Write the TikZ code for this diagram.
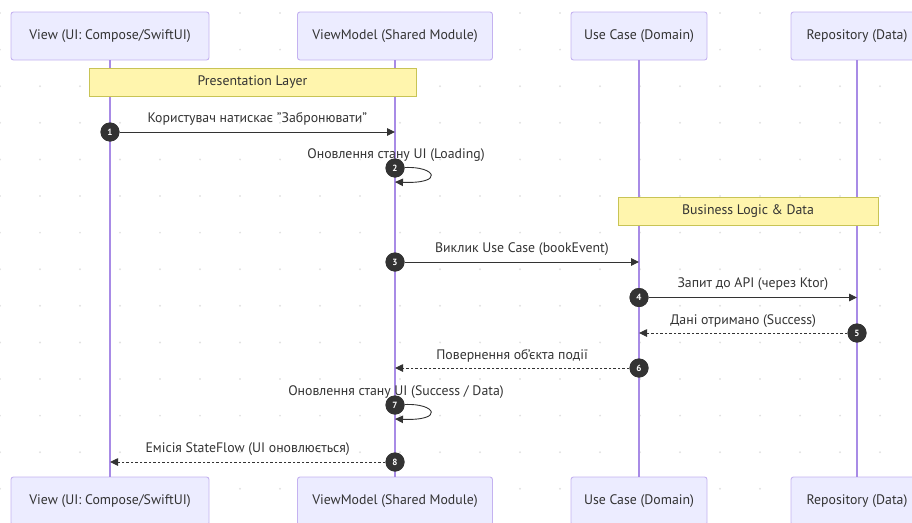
\documentclass[tikz,border=0pt]{standalone}
\usepackage{fontspec}
\setmainfont{PT Sans}
\usetikzlibrary{arrows.meta}
\definecolor{actorfill}{HTML}{ECECFF}
\definecolor{actorline}{HTML}{C4B2F0}
\definecolor{lifeline}{HTML}{A88BE6}
\definecolor{notefill}{HTML}{FFF5AD}
\definecolor{noteline}{HTML}{C8C455}
\definecolor{ink}{HTML}{333333}
\definecolor{griddot}{HTML}{E2E2E2}

\begin{document}
\begin{tikzpicture}[x=1pt,y=1pt,node distance=250pt,
                actor/.style={draw=actorline,fill=actorfill,rounded corners=2.5pt,line width=0.9pt,minimum height=48pt,text=ink,font=\fontsize{13.8}{16}\selectfont},
                note/.style={draw=noteline,fill=notefill,line width=0.8pt,minimum height=28pt,text=ink,font=\fontsize{13.8}{16}\selectfont},
                life/.style={draw=lifeline,line width=1.3pt},
                num/.style={circle,fill=ink,text=white,minimum size=19pt,inner sep=0pt,font=\bfseries\fontsize{9}{9}\selectfont},
                msg/.style={draw=ink,line width=0.9pt,-{Triangle[length=8pt,width=7.5pt]}},
                reply/.style={msg,dash pattern=on 2.5pt off 2pt},
                lbl/.style={midway,yshift=13pt,text=ink,font=\fontsize{13.8}{16}\selectfont}]
                \useasboundingbox (0,0) rectangle (912,-522);
                \foreach \i in {0,...,22}
                    \foreach \j in {0,...,14}
                        \fill[griddot] (40*\i,-13-36.6*\j) circle (1.1);

                \node[actor,minimum width=198pt] (view) at (110,-36) {View (UI: Compose/SwiftUI)};
                \node[actor,minimum width=195pt] (vm) [right of=view,xshift=35pt] {ViewModel (Shared Module)};
                \node[actor,minimum width=136pt] (usecase) [right of=vm,xshift=-6pt] {Use Case (Domain)};
                \node[actor,minimum width=132pt] (repo) [right of=usecase,xshift=-32pt] {Repository (Data)};
                \node[actor,minimum width=198pt] (view2) [below of=view,yshift=-215pt] {View (UI: Compose/SwiftUI)};
                \node[actor,minimum width=195pt] (vm2) [below of=vm,yshift=-215pt] {ViewModel (Shared Module)};
                \node[actor,minimum width=136pt] (usecase2) [below of=usecase,yshift=-215pt] {Use Case (Domain)};
                \node[actor,minimum width=132pt] (repo2) [below of=repo,yshift=-215pt] {Repository (Data)};

                \draw[life] (view) -- (view2);
                \draw[life] (vm) -- (vm2);
                \draw[life] (usecase) -- (usecase2);
                \draw[life] (repo) -- (repo2);

                \node[note,minimum width=327pt] (presnote) at (252.5,-82) {Presentation Layer};
                \node[note,minimum width=260pt] (bizznote) at (748,-211.5) {Business Logic \& Data};

                \node[num] (n1) at (view |- 0,-132) {1};
                \node[num] (n2) at (vm |- 0,-168) {2};
                \node[num] (n3) at (vm |- 0,-262) {3};
                \node[num] (n4) at (usecase |- 0,-297.5) {4};
                \node[num] (n5) at (repo |- 0,-333) {5};
                \node[num] (n6) at (usecase |- 0,-368) {6};
                \node[num] (n7) at (vm |- 0,-405) {7};
                \node[num] (n8) at (vm |- 0,-462) {8};
                \coordinate (e1) at (vm |- n1);
                \coordinate (e2) at (vm |- 0,-182);
                \coordinate (e3) at (usecase |- n3);
                \coordinate (e4) at (repo |- n4);
                \coordinate (e5) at (usecase |- n5);
                \coordinate (e6) at (vm |- n6);
                \coordinate (e7) at (vm |- 0,-419);
                \coordinate (e8) at (view |- n8);

                \draw[msg] (n1) -- (e1) node[lbl] {Користувач натискає "Забронювати"};
                \draw[msg] (n2) .. controls +(41,2) and +(50,-2) .. (e2);
                \node[text=ink,font=\fontsize{13.8}{16}\selectfont] (l2) at (396,-155) {Оновлення стану UI (Loading)};
                \draw[msg] (n3) -- (e3) node[lbl] {Виклик Use Case (bookEvent)};
                \draw[msg] (n4) -- (e4) node[lbl] {Запит до API (через Ktor)};
                \draw[reply] (n5) -- (e5) node[lbl,yshift=-1pt] {Дані отримано (Success)};
                \draw[reply] (n6) -- (e6) node[lbl,yshift=-1pt] {Повернення об'єкта події};
                \draw[msg] (n7) .. controls +(41,2) and +(50,-2) .. (e7);
                \node[text=ink,font=\fontsize{13.8}{16}\selectfont] (l7) at (396,-392) {Оновлення стану UI (Success / Data)};
                \draw[reply] (n8) -- (e8) node[lbl] {Емісія StateFlow (UI оновлюється)};

                \foreach \k in {1,...,8}
                    \node[num] at (n\k) {\k};
            \end{tikzpicture}
\end{document}
